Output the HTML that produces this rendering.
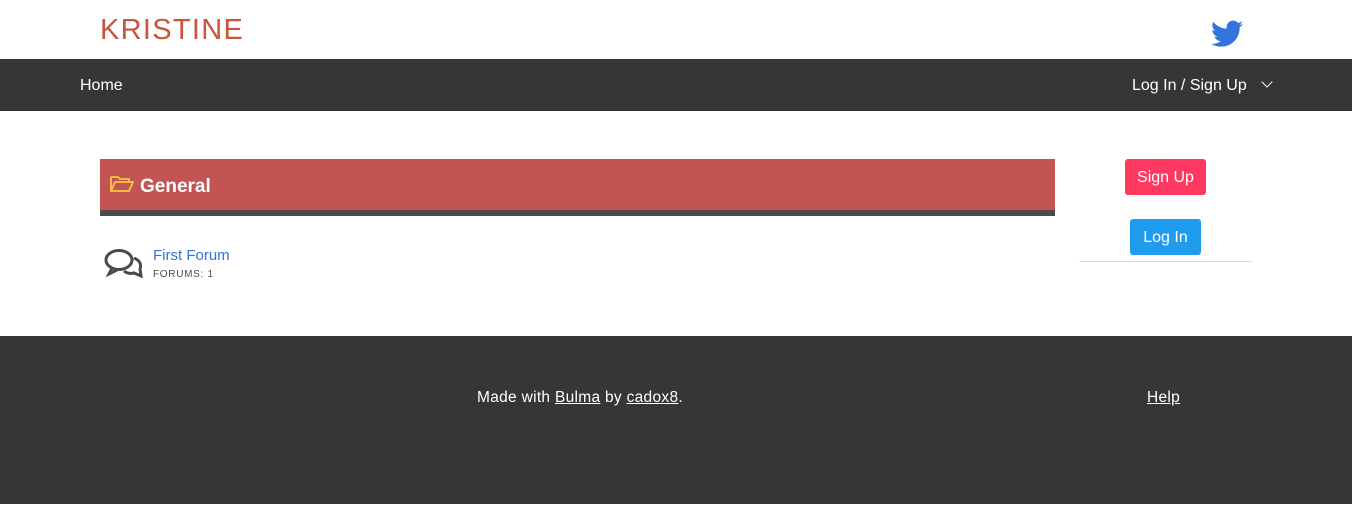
<!DOCTYPE html>
<html><head><meta charset="utf-8"><style>
*{box-sizing:border-box;margin:0;padding:0}
body{width:1352px;height:507px;overflow:hidden;background:#fff;font-family:"Liberation Sans",sans-serif;position:relative}
.abs{position:absolute}
a{color:inherit}
</style></head><body>
<div class="abs" style="left:100px;top:14px;font-size:29px;letter-spacing:1.3px;color:#c9553a">KRISTINE</div>
<svg class="abs" style="left:1211px;top:20px" width="32" height="28" viewBox="0 0 24 20"><path fill="#3273dc" d="M24 2.4c-.9.4-1.8.7-2.8.8 1-.6 1.8-1.6 2.2-2.7-1 .6-2 1-3.1 1.2C19.4.7 18.1 0 16.6 0c-2.7 0-4.9 2.2-4.9 4.9 0 .4 0 .8.1 1.100C7.7 5.800 4.100 3.900 1.700.9c-.4.7-.7 1.6-.7 2.5 0 1.7.9 3.2 2.200 4.1-.8 0-1.600-.2-2.200-.6v.1c0 2.4 1.700 4.400 3.900 4.800-.4.1-.8.2-1.300.2-.3 0-.6 0-.9-.1.6 2 2.400 3.400 4.600 3.400-1.700 1.300-3.800 2.100-6.100 2.100-.4 0-.8 0-1.200-.1 2.200 1.400 4.800 2.200 7.500 2.200 9.100 0 14-7.500 14-14v-.6c1-.7 1.800-1.600 2.500-2.500z"/></svg>
<div class="abs" style="left:0;top:59px;width:1352px;height:52px;background:#363636"></div>
<div class="abs" style="left:80px;top:77px;font-size:16px;color:#fff">Home</div>
<div class="abs" style="left:1132px;top:77px;font-size:16px;color:#fff">Log In / Sign Up <span style="display:inline-block;width:8px;height:8px;border-right:1.5px solid #fff;border-bottom:1.5px solid #fff;transform:rotate(45deg);margin-left:12px;position:relative;top:-4px"></span></div>
<div class="abs" style="left:100px;top:159px;width:955px;height:51px;background:#c25553"></div>
<div class="abs" style="left:100px;top:210px;width:955px;height:6px;background:#4a4a4a"></div>
<svg class="abs" style="left:110px;top:175px" width="24" height="18" viewBox="0 0 24 18"><path d="M1 2h7l2 2h9v3M1 2v14l4-9h18l-4 9H1" fill="none" stroke="#f5c842" stroke-width="1.8" stroke-linejoin="round"/></svg>
<div class="abs" style="left:140px;top:176px;font-size:19px;font-weight:bold;color:#fff">General</div>
<svg class="abs" style="left:104px;top:248px" width="40" height="32" viewBox="0 0 40 32"><ellipse cx="15" cy="12" rx="13" ry="9.5" fill="none" stroke="#4a4a4a" stroke-width="3"/><path d="M8 20l-3 6 8-4" fill="none" stroke="#4a4a4a" stroke-width="3"/><path d="M30 10c5 2 8 6 6 11l1 7-7-3c-4 1-8 0-10-2" fill="none" stroke="#4a4a4a" stroke-width="3"/></svg>
<div class="abs" style="left:153px;top:247px;font-size:15px;color:#3273dc">First Forum</div>
<div class="abs" style="left:153px;top:269px;font-size:10px;letter-spacing:.7px;color:#4a4a4a">FORUMS: 1</div>
<div class="abs" style="left:1125px;top:159px;width:81px;height:36px;background:#ff3860;border-radius:3px;color:#fff;font-size:16px;text-align:center;line-height:38px">Sign Up</div>
<div class="abs" style="left:1130px;top:219px;width:71px;height:36px;background:#209cee;border-radius:3px;color:#fff;font-size:16px;text-align:center;line-height:38px">Log In</div>
<div class="abs" style="left:1079px;top:261px;width:173px;height:1px;background:#dbdbdb"></div>
<div class="abs" style="left:0;top:336px;width:1352px;height:168px;background:#363636"></div>
<div class="abs" style="left:477px;top:389px;font-size:15.5px;letter-spacing:.3px;color:#fff">Made with <a style="text-decoration:underline">Bulma</a> by <a style="text-decoration:underline">cadox8</a>.</div>
<div class="abs" style="left:1147px;top:389px;font-size:15.5px;letter-spacing:.3px;color:#fff;text-decoration:underline">Help</div>
</body></html>
